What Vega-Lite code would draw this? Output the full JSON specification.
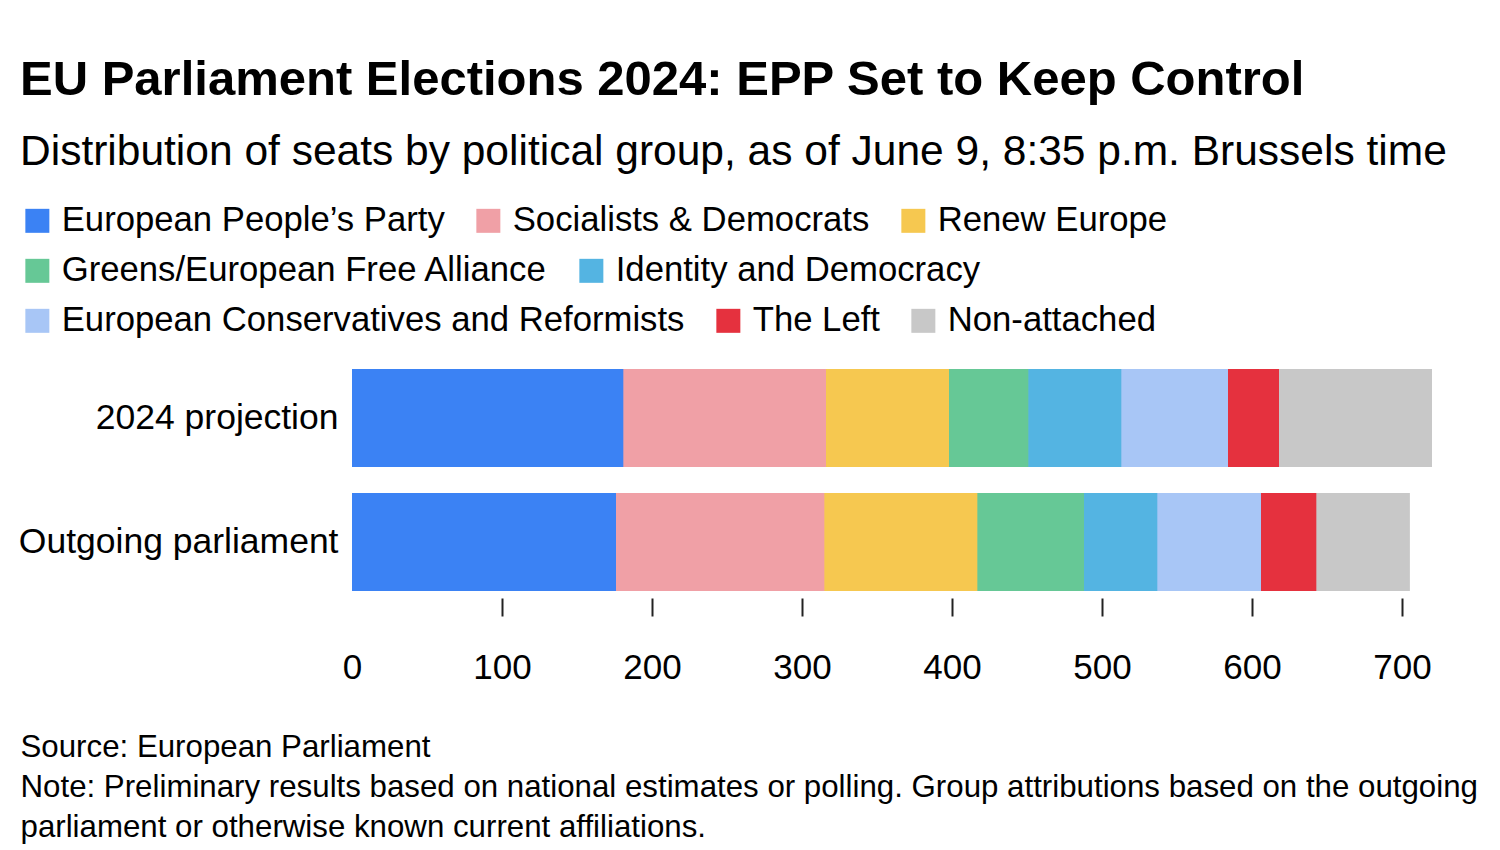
{
  "$schema": "https://vega.github.io/schema/vega-lite/v6.json",
  "width": 1080,
  "height": 222,
  "autosize": {"type": "none"},
  "padding": {"left": 352, "top": 369, "right": 68, "bottom": 259},
  "background": "white",
  "title": {
    "text": "EU Parliament Elections 2024: EPP Set to Keep Control",
    "subtitle": "Distribution of seats by political group, as of June 9, 8:35 p.m. Brussels time",
    "anchor": "start",
    "frame": "group",
    "dx": -332,
    "dy": -10,
    "font": "Liberation Sans",
    "fontSize": 49,
    "fontWeight": "bold",
    "color": "#000000",
    "subtitleFont": "Liberation Sans",
    "subtitleFontSize": 42.5,
    "subtitleColor": "#000000",
    "subtitlePadding": 26,
    "offset": 20
  },
  "data": {
    "values": [
      {"row": "2024 projection", "group": "European People’s Party", "order": 1, "seats": 181},
      {"row": "2024 projection", "group": "Socialists & Democrats", "order": 2, "seats": 135},
      {"row": "2024 projection", "group": "Renew Europe", "order": 3, "seats": 82},
      {"row": "2024 projection", "group": "Greens/European Free Alliance", "order": 4, "seats": 53},
      {"row": "2024 projection", "group": "Identity and Democracy", "order": 5, "seats": 62},
      {"row": "2024 projection", "group": "European Conservatives and Reformists", "order": 6, "seats": 71},
      {"row": "2024 projection", "group": "The Left", "order": 7, "seats": 34},
      {"row": "2024 projection", "group": "Non-attached", "order": 8, "seats": 102},
      {"row": "Outgoing parliament", "group": "European People’s Party", "order": 1, "seats": 176},
      {"row": "Outgoing parliament", "group": "Socialists & Democrats", "order": 2, "seats": 139},
      {"row": "Outgoing parliament", "group": "Renew Europe", "order": 3, "seats": 102},
      {"row": "Outgoing parliament", "group": "Greens/European Free Alliance", "order": 4, "seats": 71},
      {"row": "Outgoing parliament", "group": "Identity and Democracy", "order": 5, "seats": 49},
      {"row": "Outgoing parliament", "group": "European Conservatives and Reformists", "order": 6, "seats": 69},
      {"row": "Outgoing parliament", "group": "The Left", "order": 7, "seats": 37},
      {"row": "Outgoing parliament", "group": "Non-attached", "order": 8, "seats": 62}
    ]
  },
  "encoding": {
    "y": {
      "field": "row",
      "type": "nominal",
      "sort": ["2024 projection", "Outgoing parliament"],
      "scale": {"paddingInner": 0.21, "paddingOuter": 0},
      "axis": {
        "title": null,
        "domain": false,
        "ticks": false,
        "labelFont": "Liberation Sans",
        "labelFontSize": 35.5,
        "labelColor": "#000000",
        "labelPadding": 14,
        "labelLimit": 0
      }
    },
    "x": {
      "field": "seats",
      "type": "quantitative",
      "stack": "zero",
      "scale": {"domain": [0, 720], "nice": false},
      "axis": {
        "values": [0, 100, 200, 300, 400, 500, 600, 700],
        "domain": false,
        "grid": false,
        "ticks": true,
        "tickSize": 18,
        "tickWidth": 2,
        "tickColor": "#222222",
        "tickOpacity": {"condition": {"test": "datum.value == 0", "value": 0}, "value": 1},
        "offset": 7,
        "labelFlush": false,
        "labelFont": "Liberation Sans",
        "labelFontSize": 35,
        "labelColor": "#000000",
        "labelPadding": 34,
        "title": [
          "Source: European Parliament",
          "Note: Preliminary results based on national estimates or polling. Group attributions based on the outgoing",
          "parliament or otherwise known current affiliations."
        ],
        "titleFont": "Liberation Sans",
        "titleFontSize": 31.25,
        "titleFontWeight": "normal",
        "titleColor": "#000000",
        "titleAnchor": null,
        "titleAlign": "left",
        "titleBaseline": "alphabetic",
        "titleX": -332,
        "titleY": 158,
        "titleLineHeight": 40
      }
    },
    "order": {"field": "order", "type": "quantitative"}
  },
  "layer": [
    {
      "mark": {"type": "bar"},
      "encoding": {
        "color": {
          "field": "group",
          "type": "nominal",
          "scale": {
            "domain": ["European People’s Party", "Socialists & Democrats", "Renew Europe", "Greens/European Free Alliance", "Identity and Democracy", "European Conservatives and Reformists", "The Left", "Non-attached"],
            "range": ["#3b82f4", "#f0a0a6", "#f6c850", "#66c896", "#54b4e2", "#a8c6f6", "#e5313e", "#c8c8c8"]
          },
          "legend": {
            "values": ["European People’s Party", "Socialists & Democrats", "Renew Europe"],
            "legendY": -166
          }
        }
      }
    },
    {
      "mark": {"type": "bar"},
      "encoding": {
        "color": {
          "field": "group",
          "type": "nominal",
          "scale": {
            "domain": ["European People’s Party", "Socialists & Democrats", "Renew Europe", "Greens/European Free Alliance", "Identity and Democracy", "European Conservatives and Reformists", "The Left", "Non-attached"],
            "range": ["#3b82f4", "#f0a0a6", "#f6c850", "#66c896", "#54b4e2", "#a8c6f6", "#e5313e", "#c8c8c8"]
          },
          "legend": {
            "values": ["Greens/European Free Alliance", "Identity and Democracy"],
            "legendY": -116
          }
        }
      }
    },
    {
      "mark": {"type": "bar"},
      "encoding": {
        "color": {
          "field": "group",
          "type": "nominal",
          "scale": {
            "domain": ["European People’s Party", "Socialists & Democrats", "Renew Europe", "Greens/European Free Alliance", "Identity and Democracy", "European Conservatives and Reformists", "The Left", "Non-attached"],
            "range": ["#3b82f4", "#f0a0a6", "#f6c850", "#66c896", "#54b4e2", "#a8c6f6", "#e5313e", "#c8c8c8"]
          },
          "legend": {
            "values": ["European Conservatives and Reformists", "The Left", "Non-attached"],
            "legendY": -66
          }
        }
      }
    }
  ],
  "resolve": {"scale": {"color": "independent"}, "legend": {"color": "independent"}},
  "config": {
    "view": {"stroke": null},
    "font": "Liberation Sans",
    "legend": {
      "title": null,
      "orient": "none",
      "legendX": -332,
      "direction": "horizontal",
      "symbolType": "square",
      "symbolSize": 576,
      "symbolStrokeWidth": 0,
      "symbolOpacity": 1,
      "labelFont": "Liberation Sans",
      "labelFontSize": 34.7,
      "labelColor": "#000000",
      "labelOffset": 7,
      "labelLimit": 0,
      "columnPadding": 26
    }
  }
}
